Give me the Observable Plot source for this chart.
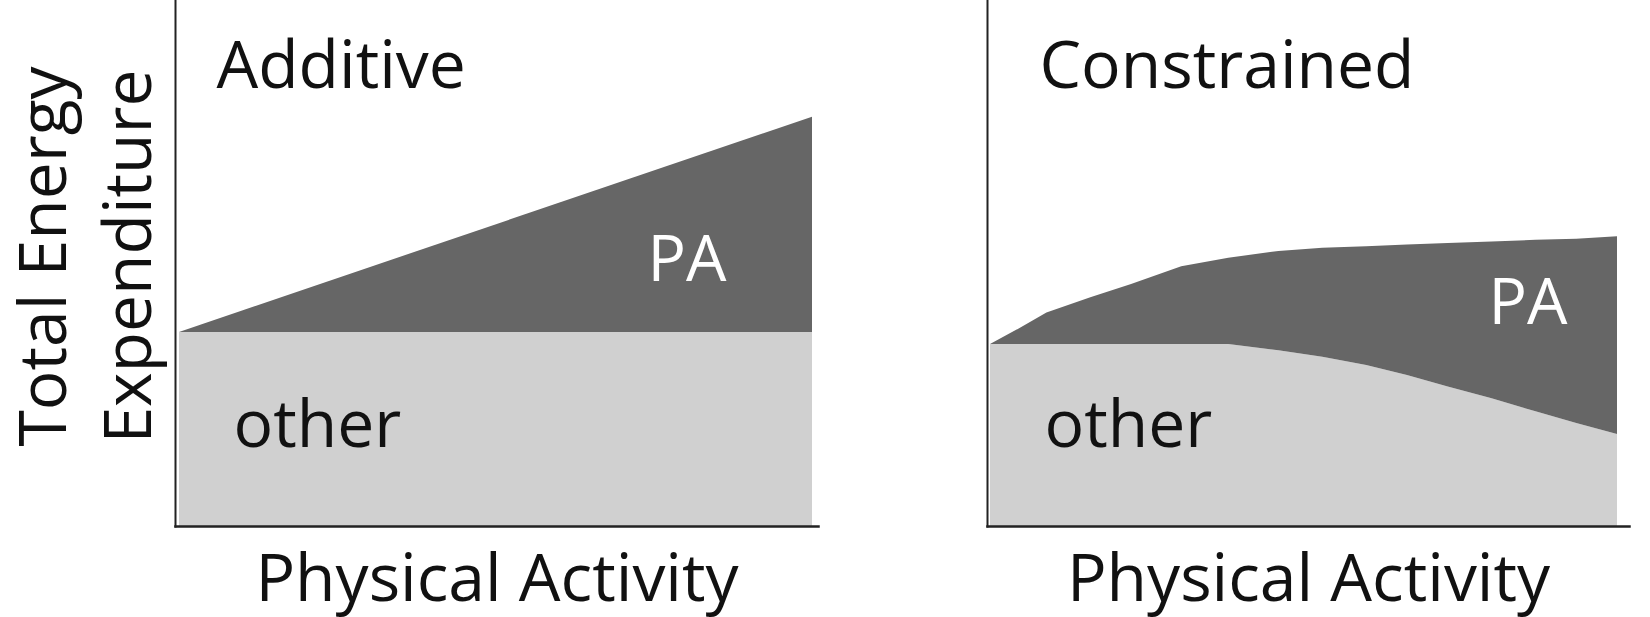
<!DOCTYPE html>
<html>
<head>
<meta charset="utf-8">
<script src="https://cdn.jsdelivr.net/npm/d3@7"></script>
<script src="https://cdn.jsdelivr.net/npm/@observablehq/plot@0.6"></script>
<style>
  html, body { margin: 0; padding: 0; background: #ffffff; }
  #wrap { display: flex; width: 1650px; height: 617px; }
  #wrap svg { display: block; }
</style>
</head>
<body>
<div id="wrap"></div>
<script>
// ---- data (relative units, 0–100 of the vertical axis) ----
const panelTitles = ["Additive", "Constrained"];
const xLabel = "Physical Activity";
const yLabelLines = ["Total Energy", "Expenditure"];
const bandLabels = ["PA", "other"];

const additiveX = [0, 10];
const additiveOther = [36.9, 36.9];
const additiveTotal = [36.9, 77.8];

const constrainedX = [0, 0.45, 0.9, 1.6, 2.25, 3.05, 3.8, 4.6, 5.3, 6.0, 6.65, 7.3, 8.0, 8.7, 9.35, 10];
const constrainedOther = [34.6, 34.6, 34.6, 34.6, 34.6, 34.6, 34.6, 33.4, 32.2, 30.6, 28.7, 26.5, 24.3, 21.8, 19.6, 17.5];
const constrainedTotal = [34.6, 37.5, 40.6, 43.5, 46.0, 49.4, 51.0, 52.3, 52.9, 53.2, 53.5, 53.8, 54.1, 54.4, 54.6, 55.1];

const rowsOf = (xs, other, total) => xs.map((x, i) => ({x, other: other[i], total: total[i]}));

const FONT = "Open Sans";
const FS = 66;
const INK = "#111111";
const LIGHT = "#d0d0d0";
const DARK = "#666666";
const AXIS = "#222222";

function panel({rows, title, marginLeft, marginRight, insetLeft, insetRight, titleDx, paDx, paBaseline, otherDx, withYLabel}) {
  const marks = [
    Plot.areaY(rows, {x: "x", y1: 0, y2: "other", fill: LIGHT}),
    Plot.areaY(rows, {x: "x", y1: "other", y2: "total", fill: DARK}),
    Plot.frame({anchor: "left", stroke: AXIS, strokeWidth: 2}),
    Plot.frame({anchor: "bottom", stroke: AXIS, strokeWidth: 2.5}),
    Plot.text([title], {frameAnchor: "top-left", dx: titleDx, dy: 87, textAnchor: "start", lineAnchor: "bottom", fontSize: FS, fill: INK}),
    Plot.text([bandLabels[0]], {frameAnchor: "top-left", dx: paDx, dy: paBaseline, textAnchor: "start", lineAnchor: "bottom", fontSize: 64, fill: "white", letterSpacing: "-2px"}),
    Plot.text([bandLabels[1]], {frameAnchor: "top-left", dx: otherDx, dy: 446, textAnchor: "start", lineAnchor: "bottom", fontSize: FS, fill: INK}),
    Plot.text([xLabel], {frameAnchor: "bottom", dy: 74, textAnchor: "middle", lineAnchor: "bottom", fontSize: FS, fill: INK})
  ];
  if (withYLabel) {
    marks.push(
      Plot.text([yLabelLines[0]], {frameAnchor: "left", dx: -110, dy: -7, rotate: -90, textAnchor: "middle", lineAnchor: "bottom", fontSize: FS, fill: INK}),
      Plot.text([yLabelLines[1]], {frameAnchor: "left", dx: -25, dy: -7, rotate: -90, textAnchor: "middle", lineAnchor: "bottom", fontSize: FS, fill: INK})
    );
  }
  return Plot.plot({
    width: 825,
    height: 617,
    marginTop: 0,
    marginBottom: 91,
    marginLeft,
    marginRight,
    x: {domain: [0, 10], insetLeft, insetRight, axis: null},
    y: {domain: [0, 100], axis: null},
    style: {fontFamily: FONT, background: "white", overflow: "visible"},
    marks
  });
}

const wrap = document.getElementById("wrap");
wrap.append(panel({
  rows: rowsOf(additiveX, additiveOther, additiveTotal),
  title: panelTitles[0],
  marginLeft: 175, marginRight: 7, insetLeft: 4, insetRight: 6,
  titleDx: 41, paDx: 472, paBaseline: 280, otherDx: 58,
  withYLabel: true
}));
wrap.append(panel({
  rows: rowsOf(constrainedX, constrainedOther, constrainedTotal),
  title: panelTitles[1],
  marginLeft: 162, marginRight: 21, insetLeft: 3, insetRight: 12,
  titleDx: 52, paDx: 501, paBaseline: 323, otherDx: 57,
  withYLabel: false
}));
</script>
</body>
</html>
